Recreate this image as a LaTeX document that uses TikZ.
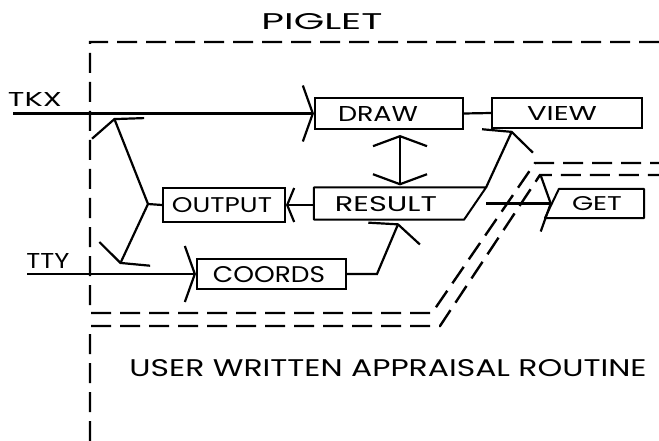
\documentclass[tikz,border=0pt]{standalone}
\usepackage{fontspec}
\setmainfont{Poppins}
\usepackage{graphicx}
\usetikzlibrary{arrows.meta}
\newcommand\hw[3]{\resizebox{#1pt}{#2pt}{#3}}
\begin{document}
\begin{tikzpicture}[x=1pt,y=-1pt,
  line width=2.2pt,
  arr/.style={-{Straight Barb[length=10pt,width=56pt]}},
  dbl/.style={{Straight Barb[length=10pt,width=54pt]}-{Straight Barb[length=10pt,width=54pt]}},
  sarr/.style={-{Straight Barb[length=7pt,width=34pt]}},
  box/.style={draw, line width=2pt, inner sep=0pt},
  ghost/.style={inner sep=0pt},
  outline/.style={line width=2pt, line join=round},
  txt/.style={inner sep=0pt, anchor=center},
  bound/.style={line width=2.4pt, dash pattern=on 20pt off 9pt}
]
\useasboundingbox (0,0) rectangle (659,441);

% boundaries
\draw[bound] (659,42) -- (90,42) -- (90,313) -- (432,313) -- (535,163) -- (659,163);
\draw[bound] (90,441) -- (90,326) -- (440,326) -- (540,175) -- (659,175);

% boxes
\node[box, minimum width=148pt, minimum height=31pt] (draw) at (389,113.5) {};
\node[box, minimum width=150pt, minimum height=30pt] (view) at (567,113) {};
\node[box, minimum width=122pt, minimum height=34pt] (output) at (224,205) {};
\node[box, minimum width=149pt, minimum height=30pt] (coords) at (271.5,274) {};
\node[ghost, minimum width=170pt, minimum height=30pt] (result) at (400,203.5) {};
\draw[outline] (result.north west) -- (result.north east) -- ([xshift=-22pt]result.south east) -- (result.south west) -- cycle;
\node[ghost, minimum width=97pt, minimum height=27pt] (get) at (594.5,203.5) {};
\draw[outline] ([xshift=14pt]get.north west) -- (get.north east) -- (get.south east) -- (get.south west) -- cycle;

% texts
\node[txt] (piglet) at (322,22) {\hw{121}{16}{PIGLET}};
\node[txt] (tkx) at (35,99.5) {\hw{54}{14}{TKX}};
\node[txt] (tty) at (48,261) {\hw{43}{15}{TTY}};
\node[txt] (drawt) at (378,114.5) {\hw{80}{15}{DRAW}};
\node[txt] (viewt) at (562,113.5) {\hw{70}{14}{VIEW}};
\node[txt] (outputt) at (222,205) {\hw{100}{15}{OUTPUT}};
\node[txt] (resultt) at (386,204.5) {\hw{102}{15}{RESULT}};
\node[txt] (coordst) at (269,275) {\hw{112}{16}{COORDS}};
\node[txt] (gett) at (597,203.5) {\hw{50}{14}{GET}};
\node[txt] (user) at (388,368.5) {\hw{517}{17}{USER WRITTEN APPRAISAL ROUTINE}};

% connectors
\coordinate (tkxin) at (13,113.5);
\coordinate (ttyin) at (27,274);
\coordinate (fork) at (148,204);
\coordinate (upend) at (114,118);
\coordinate (dnend) at (120,264);
\coordinate (bend) at (377,274);

\draw[arr] (tkxin) -- (draw.west);
\draw (draw.east) -- (view.west);
\draw[dbl, shorten <=5pt, shorten >=2pt] ([xshift=11pt]draw.south) -- (result.north);
\draw[sarr] (output.east -| result.west) -- (output.east);
\draw (output.west) -- (fork);
\draw[arr] (fork) -- (upend);
\draw[arr] (fork) -- (dnend);
\draw[arr] (ttyin) -- (coords.west);
\draw[arr, shorten >=4pt] (coords.east) -- (bend) -- (result.south);
\draw[arr, shorten >=2pt] (result.north east) -- ([xshift=-54pt]view.south);
\draw[arr] (result.east) -- ([xshift=7pt]get.west);
\end{tikzpicture}
\end{document}
